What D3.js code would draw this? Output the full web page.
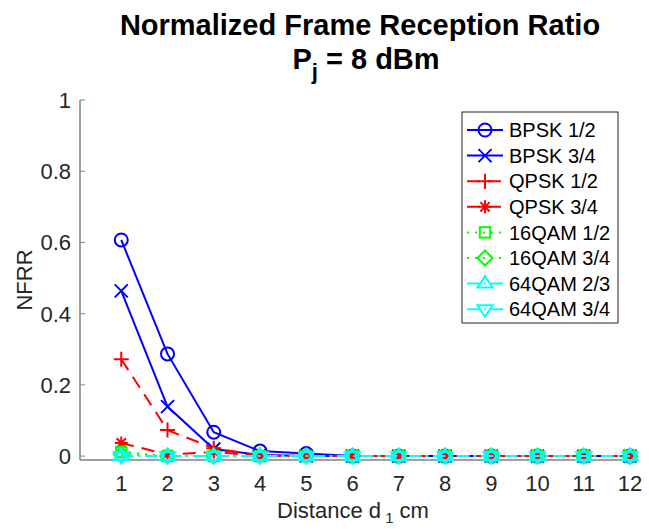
<!DOCTYPE html>
<html><head><meta charset="utf-8">
<script src="https://cdn.jsdelivr.net/npm/d3@7"></script>
<style>body{margin:0;background:#fff;} svg{display:block;font-family:"Liberation Sans",Arial,Helvetica,sans-serif;}</style>
</head><body>
<svg id="c" width="649" height="529"></svg>
<script>
const distances = [1,2,3,4,5,6,7,8,9,10,11,12];
const seriesNames = ["BPSK 1/2","BPSK 3/4","QPSK 1/2","QPSK 3/4","16QAM 1/2","16QAM 3/4","64QAM 2/3","64QAM 3/4"];
const bpsk12  = [0.607,0.287,0.067,0.014,0.007,0,0,0,0,0,0,0];
const bpsk34  = [0.464,0.139,0.020,0.003,0,0,0,0,0,0,0,0];
const qpsk12  = [0.272,0.073,0.022,0.002,0,0,0,0,0,0,0,0];
const qpsk34  = [0.037,0.004,0.012,0,0,0,0,0,0,0,0,0];
const qam16_12 = [0.012,0,0,0,0,0,0,0,0,0,0,0];
const qam16_34 = [0.005,0,0,0,0,0,0,0,0,0,0,0];
const qam64_23 = [0,0,0,0,0,0,0,0,0,0,0,0];
const qam64_34 = [0,0,0,0,0,0,0,0,0,0,0,0];
const yTicks = [0,0.2,0.4,0.6,0.8,1];
const xTicks = distances;

const seriesValues = [bpsk12,bpsk34,qpsk12,qpsk34,qam16_12,qam16_34,qam64_23,qam64_34];
const styles = [
  {color:"#0000ff", dash:null, marker:"circle"},
  {color:"#0000ff", dash:null, marker:"x"},
  {color:"#ff0000", dash:"13,8", marker:"plus"},
  {color:"#ff0000", dash:"13,8", marker:"star"},
  {color:"#00ff00", dash:"2,6", marker:"square"},
  {color:"#00ff00", dash:"2,6", marker:"diamond"},
  {color:"#00ffff", dash:"12,5,2,5", marker:"tri-up"},
  {color:"#00ffff", dash:"12,5,2,5", marker:"tri-down"}
];

const svg = d3.select("#c");
const L=80, R=630, T=100, B=460;
const x = d3.scaleLinear().domain([0.108,12]).range([L,R]);
const y = d3.scaleLinear().domain([-0.011,1]).range([B,T]);

function drawMarker(g, type, cx, cy, color){
  const s=6.5;
  const st = {stroke:color, "stroke-width":2, fill:"none"};
  let el;
  if(type==="circle") el=g.append("circle").attr("cx",cx).attr("cy",cy).attr("r",s);
  else if(type==="x") el=g.append("path").attr("d",`M${cx-s},${cy-s}L${cx+s},${cy+s}M${cx-s},${cy+s}L${cx+s},${cy-s}`);
  else if(type==="plus") el=g.append("path").attr("d",`M${cx-s-1},${cy}L${cx+s+1},${cy}M${cx},${cy-s-1}L${cx},${cy+s+1}`);
  else if(type==="star"){ const a=s*0.72; el=g.append("path").attr("d",`M${cx-s},${cy}L${cx+s},${cy}M${cx},${cy-s}L${cx},${cy+s}M${cx-a},${cy-a}L${cx+a},${cy+a}M${cx-a},${cy+a}L${cx+a},${cy-a}`);}
  else if(type==="square"){ const a=s*0.8; el=g.append("rect").attr("x",cx-a).attr("y",cy-a).attr("width",2*a).attr("height",2*a);}
  else if(type==="diamond") el=g.append("path").attr("d",`M${cx},${cy-s-1}L${cx+s+1},${cy}L${cx},${cy+s+1}L${cx-s-1},${cy}Z`);
  else if(type==="tri-up") el=g.append("path").attr("d",`M${cx},${cy-s-1}L${cx+s+1},${cy+s*0.6}L${cx-s-1},${cy+s*0.6}Z`);
  else if(type==="tri-down") el=g.append("path").attr("d",`M${cx},${cy+s+1}L${cx+s+1},${cy-s*0.6}L${cx-s-1},${cy-s*0.6}Z`);
  for(const k in st) el.attr(k,st[k]);
}

// axes
const axCol="#808080";
svg.append("line").attr("x1",L).attr("x2",L).attr("y1",T).attr("y2",B).attr("stroke",axCol).attr("stroke-width",1.5);
svg.append("line").attr("x1",L).attr("x2",R).attr("y1",B).attr("y2",B).attr("stroke",axCol).attr("stroke-width",1.5);
const yg = svg.append("g");
yTicks.forEach(t=>{
  yg.append("line").attr("x1",L).attr("x2",L+5).attr("y1",y(t)).attr("y2",y(t)).attr("stroke",axCol).attr("stroke-width",1);
  yg.append("text").attr("x",L-9).attr("y",y(t)).attr("dy","0.36em").attr("text-anchor","end").attr("font-size",22).attr("fill","#262626").text(d3.format("")(t));
});
const xg = svg.append("g");
xTicks.forEach(t=>{
  xg.append("line").attr("x1",x(t)).attr("x2",x(t)).attr("y1",B).attr("y2",B-5).attr("stroke",axCol).attr("stroke-width",1);
  xg.append("text").attr("x",x(t)).attr("y",491).attr("text-anchor","middle").attr("font-size",22).attr("fill","#262626").text(t);
});

// series
const line = d3.line().x((d,i)=>x(distances[i])).y(d=>y(d));
seriesValues.forEach((vals,si)=>{
  const st=styles[si];
  const g=svg.append("g");
  g.append("path").datum(vals).attr("d",line).attr("fill","none").attr("stroke",st.color).attr("stroke-width",2)
    .attr("stroke-dasharray",st.dash);
  vals.forEach((v,i)=>drawMarker(g,st.marker,x(distances[i]),y(v),st.color));
});

// legend
const lg=svg.append("g");
lg.append("rect").attr("x",462).attr("y",112).attr("width",156).attr("height",211).attr("fill","#fff").attr("stroke","#262626").attr("stroke-width",1);
seriesNames.forEach((n,i)=>{
  const st=styles[i]; const ly=130+i*25.6;
  lg.append("line").attr("x1",467).attr("x2",503).attr("y1",ly).attr("y2",ly).attr("stroke",st.color).attr("stroke-width",2).attr("stroke-dasharray",st.dash);
  drawMarker(lg,st.marker,485,ly,st.color);
  lg.append("text").attr("x",509).attr("y",ly).attr("dy","0.36em").attr("font-size",20).attr("fill","#000").text(n);
});

// titles
svg.append("text").attr("x",360).attr("y",35).attr("text-anchor","middle").attr("font-size",29).attr("font-weight","bold").attr("fill","#000").text("Normalized Frame Reception Ratio");
const t2=svg.append("text").attr("x",366).attr("y",69).attr("text-anchor","middle").attr("font-size",29).attr("font-weight","bold").attr("fill","#000");
t2.append("tspan").text("P");
t2.append("tspan").attr("dy",10).attr("font-size",22).text("j");
t2.append("tspan").attr("dy",-10).text(" = 8 dBm");

svg.append("text").attr("transform","translate(32,280) rotate(-90)").attr("text-anchor","middle").attr("font-size",22).attr("fill","#262626").text("NFRR");
const xl=svg.append("text").attr("x",353).attr("y",518).attr("text-anchor","middle").attr("font-size",22).attr("fill","#262626");
xl.append("tspan").text("Distance d");
xl.append("tspan").attr("dy",5).attr("font-size",15).text(" 1");
xl.append("tspan").attr("dy",-5).text(" cm");
</script>
</body></html>
